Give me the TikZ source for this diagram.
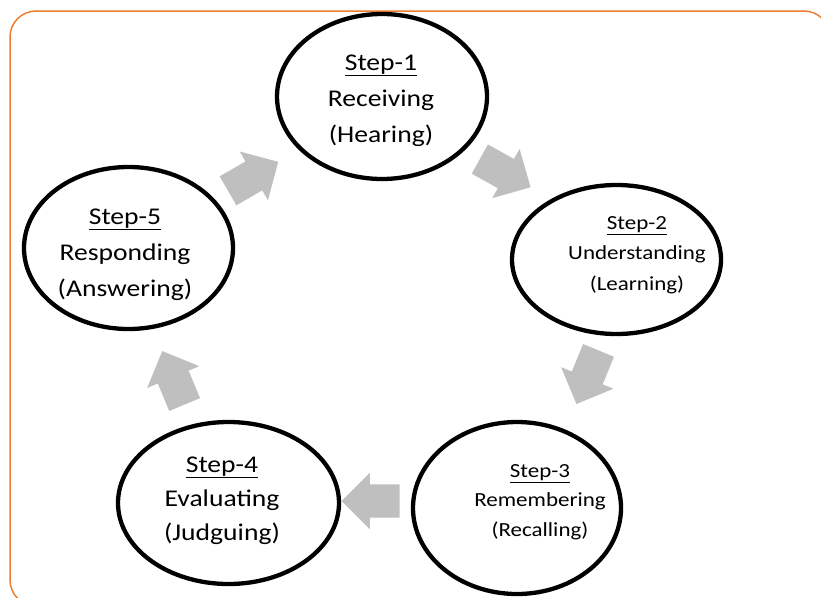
\documentclass[tikz,border=0pt]{standalone}
\usepackage{fontspec}
\setmainfont{Carlito}[FakeStretch=1.15]
\usetikzlibrary{shapes.arrows,shapes.geometric}
\definecolor{frameorange}{RGB}{237,125,49}
\definecolor{arrowgray}{RGB}{191,191,191}
\begin{document}
\begin{tikzpicture}[x=1pt,y=-1pt,
  stepell/.style={ellipse, draw=black, line width=4.3pt, fill=white, inner sep=0pt},
  blockarrow/.style={single arrow, fill=arrowgray, draw=none, inner xsep=0pt, inner ysep=16.5pt,
    minimum height=58pt, single arrow head extend=11.5pt},
  steptext/.style={align=center, inner sep=0pt, text=black}]
\useasboundingbox (0,0) rectangle (821,597);
\clip (0,0) rectangle (821,597);
\draw[frameorange, line width=1.5pt, rounded corners=26pt] (10,11) rectangle (830,606);
% ellipses
\node[stepell, minimum width=210pt, minimum height=165pt] (s1) at (382,96.5) {};
\node[stepell, minimum width=209pt, minimum height=149pt] (s2) at (616.5,259.5) {};
\node[stepell, minimum width=208pt, minimum height=172pt] (s3) at (517,508) {};
\node[stepell, minimum width=221pt, minimum height=162pt] (s4) at (228.5,503) {};
\node[stepell, minimum width=209pt, minimum height=162pt] (s5) at (128.5,248) {};
% block arrows
\node[blockarrow, rotate=-29] (a12) at (497.9,169.1) {};
\node[blockarrow, rotate=247.6] (a23) at (590.7,369.5) {};
\node[blockarrow, rotate=180] (a34) at (379,501) {};
\node[blockarrow, rotate=112.7] (a45) at (176.7,385.5) {};
\node[blockarrow, rotate=30] (a51) at (245.9,180.5) {};
% texts
\node[steptext, font=\fontsize{24}{36}\selectfont] (t1) at (381,100.6) {\underline{Step-1}\\Receiving\\(Hearing)};
\node[steptext, font=\fontsize{20}{30.5}\selectfont] (t2) at (637,255) {\underline{Step-2}\\Understanding\\(Learning)};
\node[steptext, font=\fontsize{20}{29.5}\selectfont] (t3) at (540,502) {\underline{Step-3}\\Remembering\\(Recalling)};
\node[steptext, font=\fontsize{24}{34}\selectfont] (t4) at (222,500.6) {\underline{Step-4}\\Evaluating\\(Judguing)};
\node[steptext, font=\fontsize{24}{36}\selectfont] (t5) at (125,254.6) {\underline{Step-5}\\Responding\\(Answering)};
\end{tikzpicture}
\end{document}
